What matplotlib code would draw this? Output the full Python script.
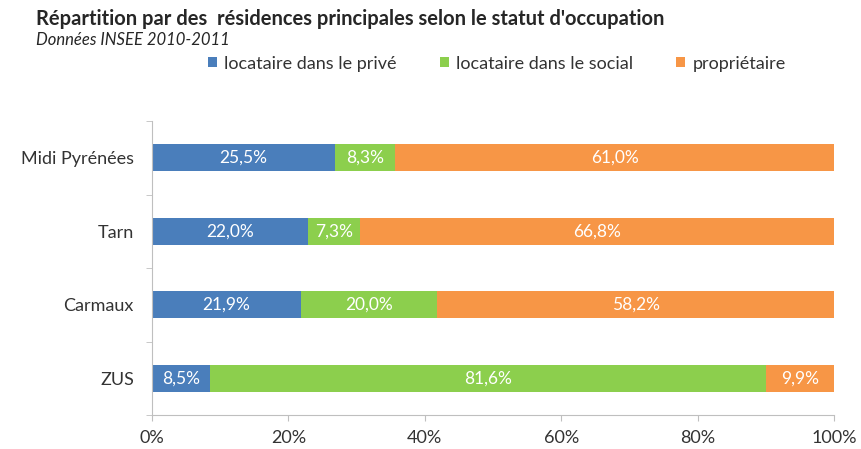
import matplotlib.pyplot as plt
import numpy as np

plt.rcParams['font.family'] = ['Lato', 'DejaVu Sans']

# données
territoires = ['Midi Pyrénées', 'Tarn', 'Carmaux', 'ZUS']
prive = [25.5, 22.0, 21.9, 8.5]
social = [8.3, 7.3, 20.0, 81.6]
proprio = [61.0, 66.8, 58.2, 9.9]
series_noms = ['locataire dans le privé', 'locataire dans le social', 'propriétaire']
couleurs = ['#4a7ebb', '#8ccf4d', '#f79646']
ticks_x = ['0%', '20%', '40%', '60%', '80%', '100%']

valeurs = np.array([prive, social, proprio])
# 100% empilé, comme dans Excel
parts = valeurs / valeurs.sum(axis=0) * 100

fig = plt.figure(figsize=(8.61, 4.49), dpi=100)
ax = fig.add_axes([0.1765, 0.0757, 0.7921, 0.6548])

y = np.arange(len(territoires))
gauche = np.zeros(len(territoires))
for i in range(3):
    barres = ax.barh(y, parts[i], left=gauche, height=0.37, color=couleurs[i],
                     label=series_noms[i])
    for j, b in enumerate(barres):
        ax.text(b.get_x() + b.get_width() / 2, b.get_y() + b.get_height() / 2,
                f'{valeurs[i][j]:.1f}%'.replace('.', ','), color='white',
                ha='center', va='center', fontsize=12.5)
    gauche += parts[i]

ax.set_xlim(0, 100)
ax.set_ylim(len(territoires) - 0.5, -0.5)
ax.set_yticks(y)
ax.set_yticklabels(territoires, fontsize=13, color='#333333')
ax.set_yticks(np.arange(-0.5, len(territoires)), minor=True)
ax.tick_params(axis='y', which='major', length=0, pad=13)
ax.tick_params(axis='y', which='minor', length=4, color='#bfbfbf')
ax.set_xticks(np.arange(0, 101, 20))
ax.set_xticklabels(ticks_x, fontsize=13, color='#333333')
ax.tick_params(axis='x', length=4, color='#bfbfbf', pad=7)

for s in ['top', 'right']:
    ax.spines[s].set_visible(False)
for s in ['left', 'bottom']:
    ax.spines[s].set_color('#bfbfbf')

fig.text(0.042, 0.958, "Répartition par des  résidences principales selon le statut d'occupation",
         fontsize=14.5, fontweight='bold', color='#262626', va='center')
fig.text(0.042, 0.91, 'Données INSEE 2010-2011', fontsize=12, style='italic',
         color='#262626', va='center')

fig.legend(loc='center', bbox_to_anchor=(0.577, 0.858), ncol=3, frameon=False,
           fontsize=13, handlelength=0.5, handleheight=0.5, columnspacing=2.4,
           handletextpad=0.4, labelcolor='#333333')

fig.savefig('out.png', dpi=100)
